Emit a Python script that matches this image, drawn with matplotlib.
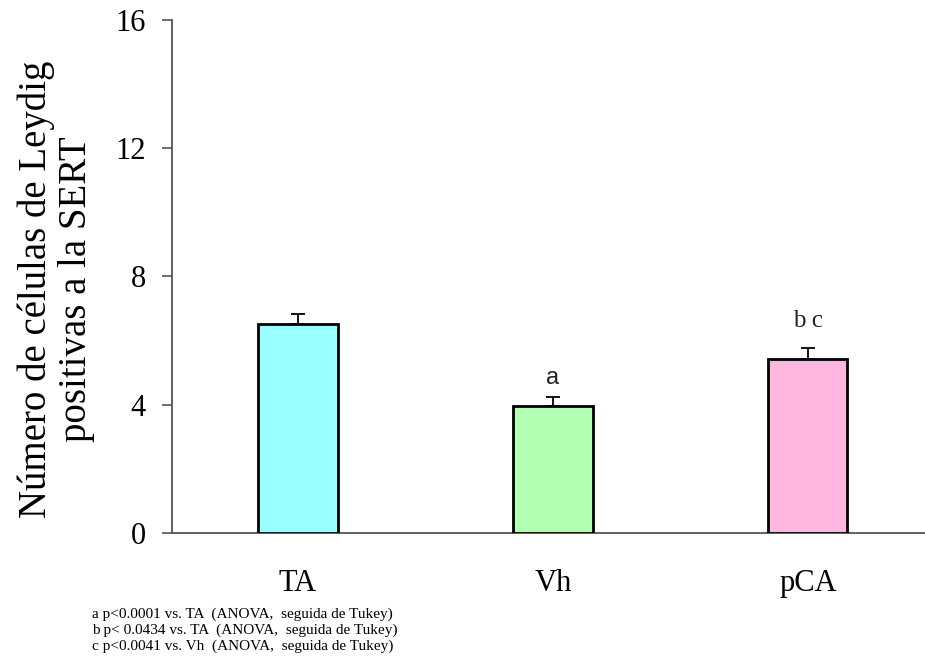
import matplotlib.pyplot as plt

grupos = ["TA", "Vh", "pCA"]
medias = [6.5, 3.95, 5.43]
errores = [0.34, 0.29, 0.34]
colores = ["#99FFFF", "#B3FFB3", "#FFB6DF"]
letras = ["", "a", "b c"]
notas = [
    "a p<0.0001 vs. TA  (ANOVA,  seguida de Tukey)",
    "b p< 0.0434 vs. TA  (ANOVA,  seguida de Tukey)",
    "c p<0.0041 vs. Vh  (ANOVA,  seguida de Tukey)",
]

serif = "Liberation Serif"

fig = plt.figure(figsize=(9.25, 6.66), dpi=100)
ax = fig.add_axes([0.186, 0.2, 0.814, 0.77])

x = range(len(grupos))
ax.bar(x, medias, width=0.31, color=colores, edgecolor="black", linewidth=2.0, zorder=3)
ax.errorbar(x, medias, yerr=[[0] * len(errores), errores], fmt="none",
            ecolor="black", elinewidth=1.3, capsize=5, capthick=1.3, zorder=2)

# letras de significancia sobre cada barra
for i, (m, e, l) in enumerate(zip(medias, errores, letras)):
    if not l:
        continue
    if l == "a":
        ax.text(i, m + e + 0.58, l, ha="center", va="center", fontsize=17,
                family="Liberation Sans", color="#222222")
    else:
        ax.text(i, m + e + 0.85, l, ha="center", va="center", fontsize=18,
                family=serif, color="#222222")

ax.set_xlim(-0.494, 2.459)
ax.set_ylim(0, 16)
ax.set_yticks([0, 4, 8, 12, 16])
ax.set_xticks(list(x))
ax.set_xticklabels(grupos)

for s in ["top", "right"]:
    ax.spines[s].set_visible(False)
for s in ["left", "bottom"]:
    ax.spines[s].set_color("#555555")
    ax.spines[s].set_linewidth(1.3)

ax.tick_params(axis="y", direction="out", length=7, width=1.2, color="#555555",
               pad=12, labelsize=22)
ax.tick_params(axis="x", length=0, pad=26, labelsize=22)
for t in ax.get_xticklabels() + ax.get_yticklabels():
    t.set_family(serif)

ax.set_ylabel("Número de células de Leydig\npositivas a la SERT", family=serif,
              fontsize=28, linespacing=1.1)
ax.yaxis.set_label_coords(-0.102, 0.475)

for k, n in enumerate(notas):
    fig.text(0.1, 0.078 - k * 0.024, n, family=serif, fontsize=11, va="center")

fig.savefig("out.png", dpi=100)
